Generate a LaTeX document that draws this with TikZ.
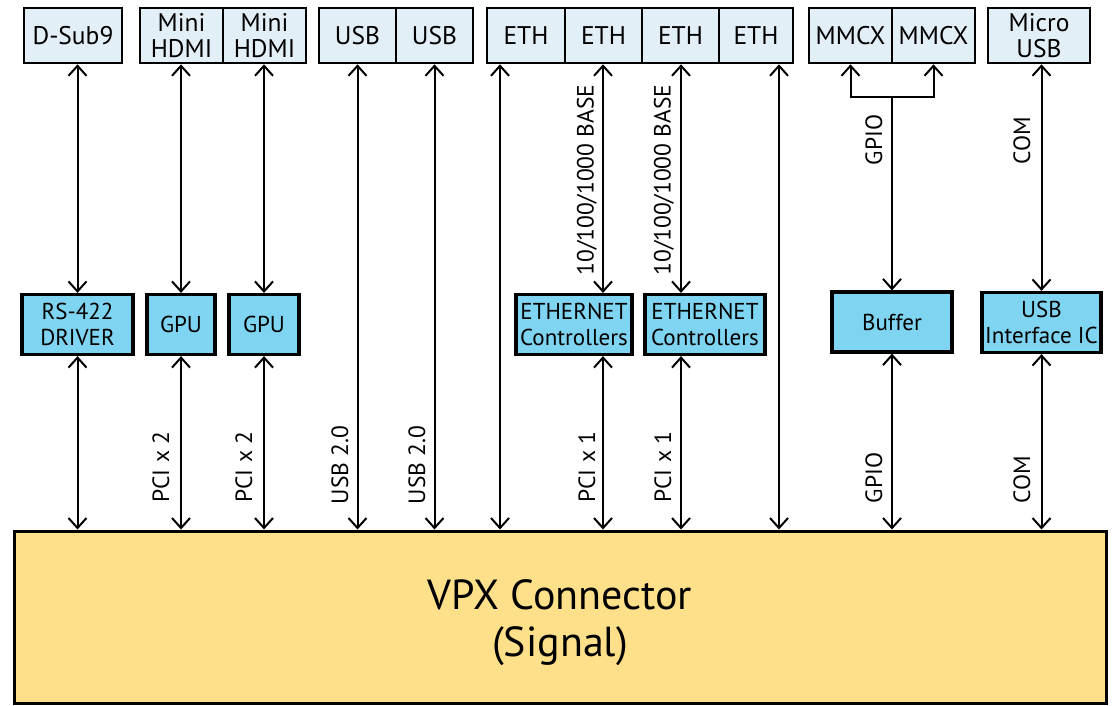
\documentclass[tikz,border=0pt]{standalone}
\usepackage{fontspec}
\setmainfont{PT Sans}
\usetikzlibrary{arrows.meta}
\definecolor{portblue}{HTML}{E3EFF6}
\definecolor{chipblue}{HTML}{7ED4F1}
\definecolor{vpxyellow}{HTML}{FFE08A}

\begin{document}
\begin{tikzpicture}[x=1pt, y=-1pt,
  tip/.tip={Straight Barb[length=10pt, width=18pt, line width=2pt]},
  link/.style={tip-tip, line width=2pt},
  port node/.style={draw, line width=2.6pt, fill=portblue, minimum height=55pt, inner sep=0pt, align=center, font=\fontsize{25.5}{26}\selectfont},
  chip node/.style={draw, line width=3.2pt, fill=chipblue, minimum height=60pt, inner sep=0pt, align=center, font=\fontsize{23}{26}\selectfont},
  lbl/.style={rotate=90, inner sep=0pt, font=\fontsize{23.5}{24}\selectfont}]

	\useasboundingbox (0,0) rectangle (1113,705);

	% connectors on the front panel
	\node[port node, minimum width=98pt] (dsub) at (73,35.5) {D-Sub9};
	\node[port node, minimum width=83pt] (hdmiA) at (181.5,35.5) {Mini\\HDMI};
	\node[port node, minimum width=83pt] (hdmiB) at (264.5,35.5) {Mini\\HDMI};
	\node[port node, minimum width=77pt] (usbA) at (357.5,35.5) {USB};
	\node[port node, minimum width=77pt] (usbB) at (434.5,35.5) {USB};
	\node[port node, minimum width=78pt] (ethA) at (526,35.5) {ETH};
	\node[port node, minimum width=77pt] (ethB) at (603.5,35.5) {ETH};
	\node[port node, minimum width=77pt] (ethC) at (680.5,35.5) {ETH};
	\node[port node, minimum width=74pt] (ethD) at (756,35.5) {ETH};
	\node[port node, minimum width=83pt] (mmA) at (850.5,35.5) {MMCX};
	\node[port node, minimum width=83pt] (mmB) at (933.5,35.5) {MMCX};
	\node[port node, minimum width=102pt] (musb) at (1039,35.5) {Micro\\USB};

	% chips on the board
	\node[chip node, minimum width=111pt] (rs) at (77.5,324.5) {RS-422\\DRIVER};
	\node[chip node, minimum width=68pt] (gpuA) at (181,324.5) {GPU};
	\node[chip node, minimum width=70pt] (gpuB) at (264,324.5) {GPU};
	\node[chip node, minimum width=116pt] (ecA) at (574,324.5) {ETHERNET\\Controllers};
	\node[chip node, minimum width=120pt] (ecB) at (705,324.5) {ETHERNET\\Controllers};
	\node[chip node, minimum width=120pt] (buf) at (892,322) {Buffer};
	\node[chip node, minimum width=119pt] (usbic) at (1041.5,322.5) {USB\\Interface IC};

	\node[draw, line width=3pt, fill=vpxyellow, minimum width=1092pt, minimum height=172pt, align=center, font=\fontsize{42}{48}\selectfont] (vpx) at (560,617) {\rule{0pt}{41pt}VPX Connector\\[-1pt](Signal)};

	\coordinate (e1) at (500,0);
	\coordinate (e2) at (603,0);
	\coordinate (e3) at (681,0);
	\coordinate (e4) at (779,0);
	\coordinate (fork) at (892,97);

	% draw panel side links
	\draw[link] (rs.north) -- (rs.north |- dsub.south);
	\draw[link] (gpuA.north) -- (gpuA.north |- hdmiA.south);
	\draw[link] (gpuB.north) -- (gpuB.north |- hdmiB.south);
	\draw[link] (ecA.north -| e2) -- (ethB.south -| e2);
	\draw[link] (ecB.north -| e3) -- (ethC.south -| e3);
	\draw[link] (mmA.south) |- (mmB.south |- fork) -- (mmB.south);
	\draw[-tip, line width=2pt] (fork) -- (buf.north);
	\draw[link] (usbic.north) -- (usbic.north |- musb.south);

	% draw straight links to the VPX connector
	\draw[link] (usbA.south) -- (usbA.south |- vpx.north);
	\draw[link] (usbB.south) -- (usbB.south |- vpx.north);
	\draw[link] (ethA.south -| e1) -- (vpx.north -| e1);
	\draw[link] (ethD.south -| e4) -- (vpx.north -| e4);

	% draw board side links
	\draw[link] (rs.south) -- (rs.south |- vpx.north);
	\draw[link] (gpuA.south) -- (gpuA.south |- vpx.north);
	\draw[link] (gpuB.south) -- (gpuB.south |- vpx.north);
	\draw[link] (ecA.south -| e2) -- (vpx.north -| e2);
	\draw[link] (ecB.south -| e3) -- (vpx.north -| e3);
	\draw[link] (buf.south) -- (buf.south |- vpx.north);
	\draw[link] (usbic.south) -- (usbic.south |- vpx.north);

	% link labels
	\node[lbl] (baseA) at (587,180) {10/100/1000 BASE};
	\node[lbl] (baseB) at (664,180) {10/100/1000 BASE};
	\node[lbl] (gpioT) at (874,140) {GPIO};
	\node[lbl] (comT) at (1022,141) {COM};
	\node[lbl] (pciA) at (161,467) {PCI x 2};
	\node[lbl] (pciB) at (244,467) {PCI x 2};
	\node[lbl] (usb2A) at (340,465) {USB 2.0};
	\node[lbl] (usb2B) at (417,465) {USB 2.0};
	\node[lbl] (pciC) at (587,467) {PCI x 1};
	\node[lbl] (pciD) at (663,467) {PCI x 1};
	\node[lbl] (gpioB) at (874,478) {GPIO};
	\node[lbl] (comB) at (1022,480) {COM};

\end{tikzpicture}
\end{document}
